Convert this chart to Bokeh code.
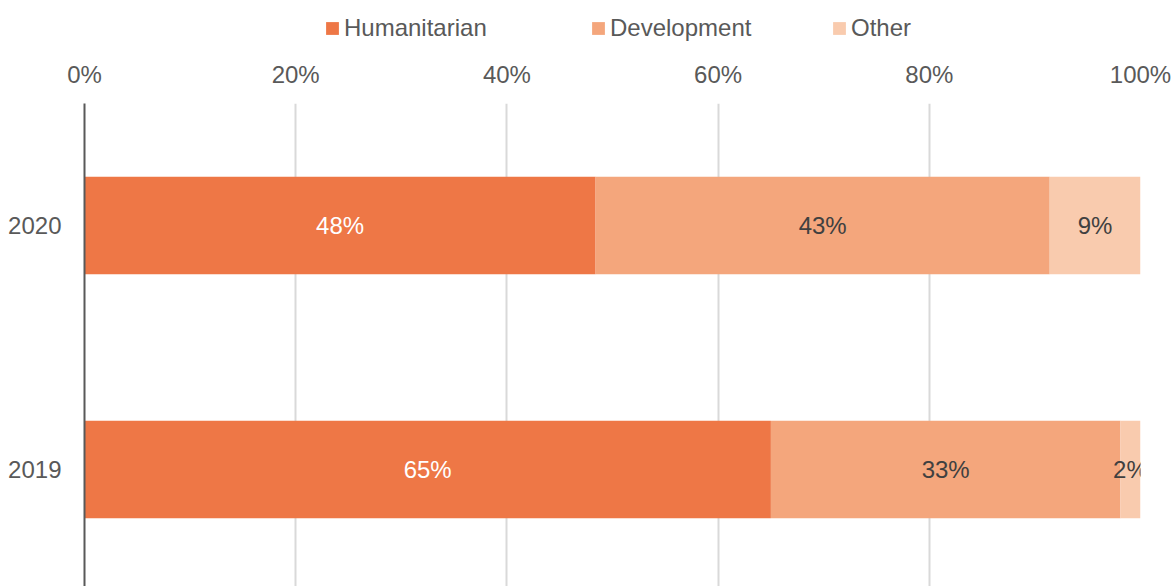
from bokeh.plotting import figure
from bokeh.models import (ColumnDataSource, Range1d, FixedTicker, PrintfTickFormatter,
                          Legend, LegendItem, LabelSet)
from bokeh.layouts import column
from bokeh.core.properties import value
from bokeh.embed import file_html
from bokeh.resources import INLINE

# ---- data ----
years = ["2019", "2020"]
year_pos = [0.5, 1.5]
humanitarian = [65.0, 48.4]
development = [33.1, 43.0]
other = [1.9, 8.6]
x_ticks = [0, 20, 40, 60, 80, 100]

series = ["Humanitarian", "Development", "Other"]
colors = ["#EE7746", "#F4A67C", "#F9CBAE"]
label_colors = ["#FFFFFF", "#404040", "#404040"]
FONT = "Liberation Sans"
FS = "24px"

src = ColumnDataSource(dict(y=year_pos, Humanitarian=humanitarian,
                            Development=development, Other=other))

LEG_H = 50
p = figure(width=1174, height=586 - LEG_H, output_backend="svg", toolbar_location=None,
           x_range=Range1d(0, 100), y_range=Range1d(0.0205, 2.0),
           x_axis_location="above", min_border_left=84, min_border_right=34,
           min_border_top=103 - LEG_H, min_border_bottom=0)
p.outline_line_color = None

rs = p.hbar_stack(series, y="y", height=0.40, color=colors, source=src, line_color=None)

# data labels
all_vals = [humanitarian, development, other]
for i, name in enumerate(series):
    starts = [0.0] * len(years)
    for j in range(i):
        starts = [a + b for a, b in zip(starts, all_vals[j])]
    vals = all_vals[i]
    mids = [s + v / 2 for s, v in zip(starts, vals)]
    lsrc = ColumnDataSource(dict(x=mids, y=year_pos, t=[f"{round(v)}%" for v in vals]))
    p.add_layout(LabelSet(x="x", y="y", text="t", source=lsrc, text_align="center",
                          text_baseline="middle", text_font=value(FONT),
                          text_font_size=value(FS), text_color=label_colors[i]))

# axes
xa = p.xaxis[0]
xa.ticker = FixedTicker(ticks=x_ticks)
xa.formatter = PrintfTickFormatter(format="%d%%")
xa.axis_line_color = None
xa.major_tick_line_color = None
xa.minor_tick_line_color = None
xa.major_label_text_font = FONT
xa.major_label_text_font_size = FS
xa.major_label_text_color = "#595959"
xa.major_label_standoff = 10

ya = p.yaxis[0]
ya.ticker = FixedTicker(ticks=year_pos)
ya.major_label_overrides = {0.5: "2019", 1.5: "2020"}
ya.axis_line_color = "#595959"
ya.axis_line_width = 2
ya.major_tick_line_color = None
ya.minor_tick_line_color = None
ya.major_label_text_font = FONT
ya.major_label_text_font_size = FS
ya.major_label_text_color = "#595959"
ya.major_label_standoff = 17

p.xgrid.ticker = FixedTicker(ticks=x_ticks)
p.xgrid.grid_line_color = "#D9D9D9"
p.xgrid.grid_line_width = 2
p.ygrid.grid_line_color = None

# legend strip: a small figure above the chart holding the legend
lf = figure(width=1174, height=LEG_H, output_backend="svg", toolbar_location=None,
            x_range=Range1d(0, 1), y_range=Range1d(0, 1),
            x_axis_type=None, y_axis_type=None,
            min_border_left=0, min_border_right=0, min_border_top=0, min_border_bottom=0)
lf.outline_line_color = None
lf.xgrid.grid_line_color = None
lf.ygrid.grid_line_color = None
nan = float("nan")
# legend proxies (NaN coordinates: nothing is drawn, only the legend swatch)
lrs = [lf.hbar(y=[nan], right=[nan], height=0.4, color=c, line_color=None) for c in colors]

legend_x = [240, 506, 747]
for n, r, lx in zip(series, lrs, legend_x):
    lg = Legend(items=[LegendItem(label=n, renderers=[r])],
                orientation="horizontal", location=(lx, LEG_H - 42),
                glyph_width=16, glyph_height=16, label_standoff=4,
                label_text_font=FONT, label_text_font_size=FS,
                label_text_color="#595959", border_line_color=None,
                background_fill_alpha=0, padding=0, margin=0)
    lf.add_layout(lg)

layout = column(lf, p, spacing=0)
open("out.html", "w").write(file_html(layout, INLINE))
